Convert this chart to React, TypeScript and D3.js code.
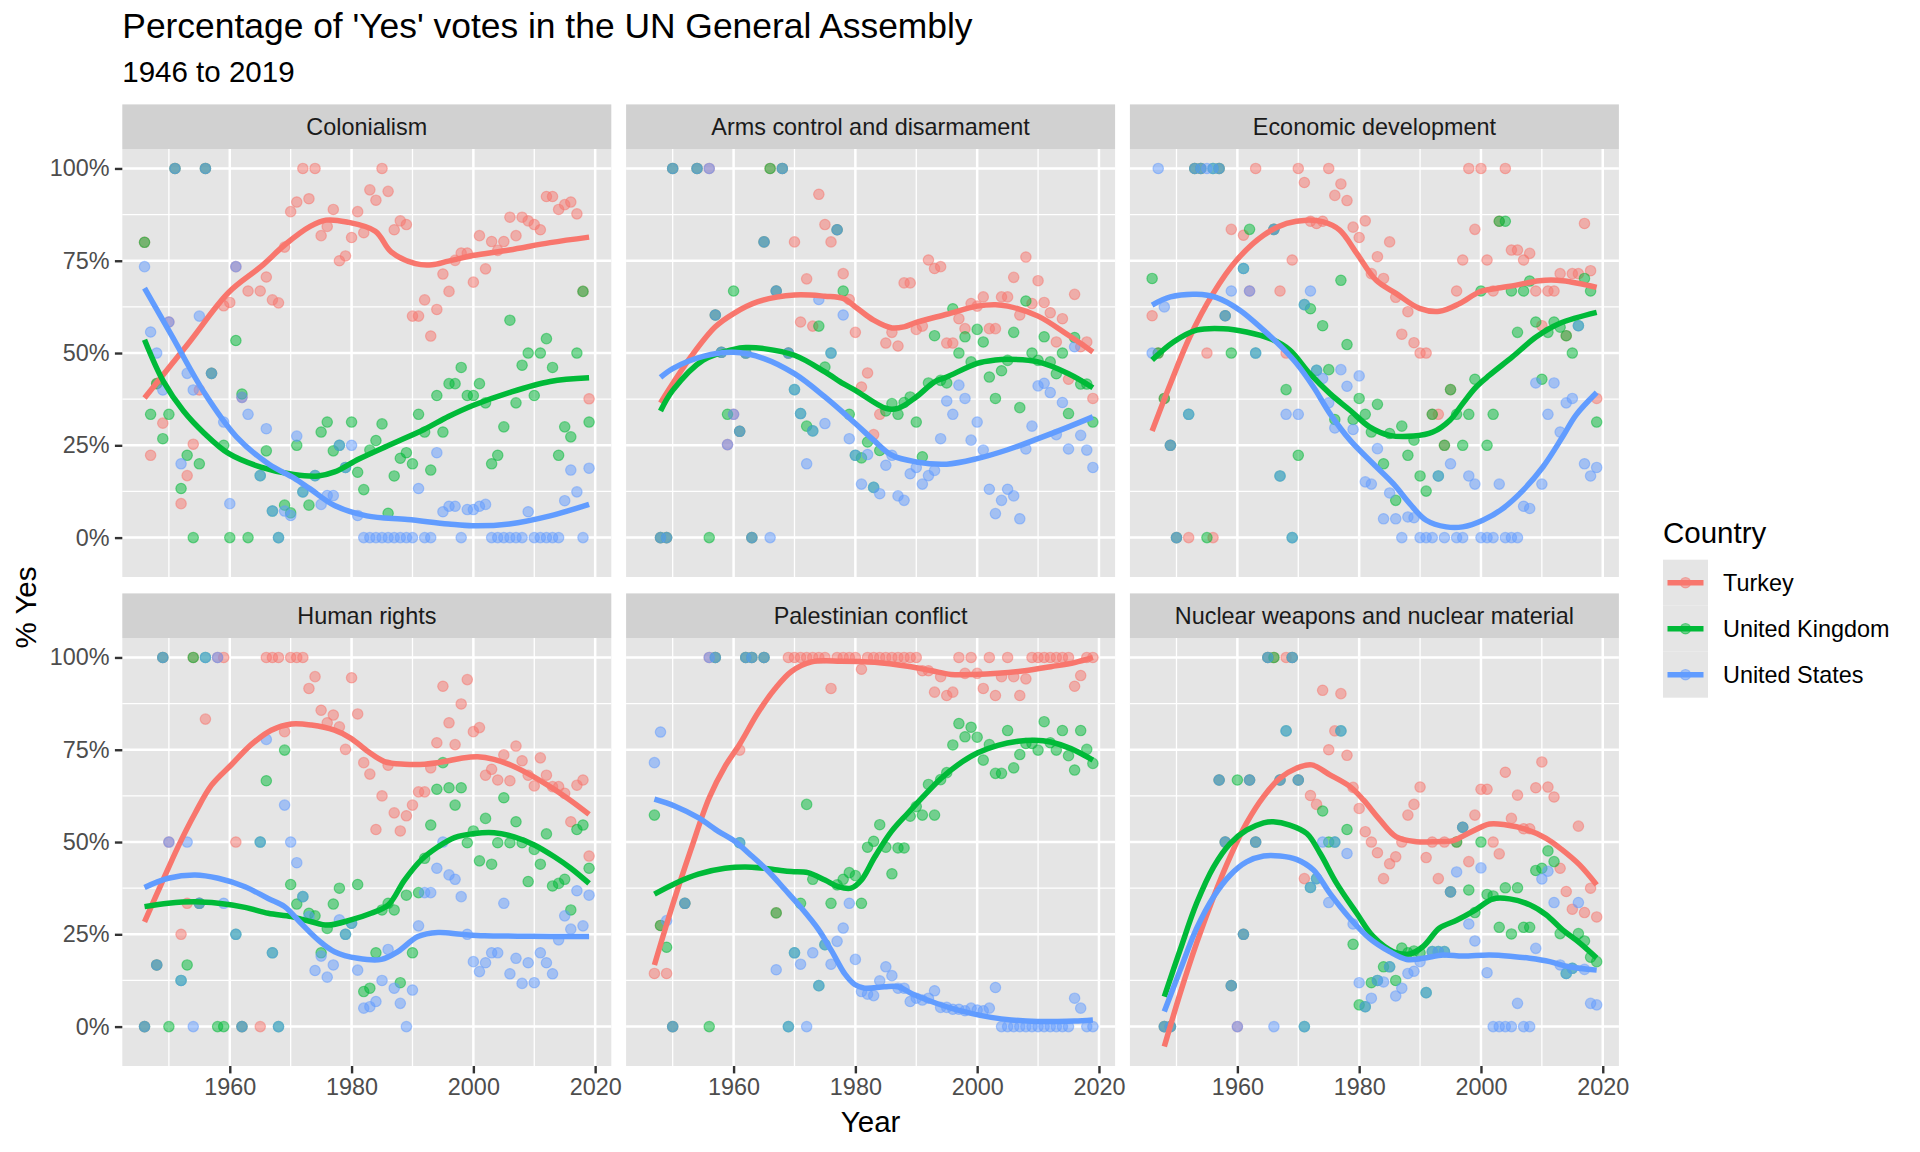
import { useEffect, useRef } from 'react';
import * as d3 from 'd3';

// ---- data ----------------------------------------------------------------
const countries = ['Turkey', 'United Kingdom', 'United States'];
const countryColors = ['#F8766D', '#00BA38', '#619CFF'];
const issues = [
  'Colonialism',
  'Arms control and disarmament',
  'Economic development',
  'Human rights',
  'Palestinian conflict',
  'Nuclear weapons and nuclear material',
];
const yTicks = [0, 25, 50, 75, 100];
const yMinorTicks = [12.5, 37.5, 62.5, 87.5];
const xTicks = [1960, 1980, 2000, 2020];
const xMinorTicks = [1950, 1970, 1990, 2010];

type V = number | null;

// Colonialism
const colonialismYears = [1946, 1947, 1948, 1949, 1950, 1951, 1952, 1953, 1954, 1955, 1956, 1957, 1959, 1960, 1961, 1962, 1963,
  1965, 1966, 1967, 1968, 1969, 1970, 1971, 1972, 1973, 1974, 1975, 1976, 1977, 1978, 1979, 1980, 1981, 1982, 1983, 1984,
  1985, 1986, 1987, 1988, 1989, 1990, 1991, 1992, 1993, 1994, 1995, 1996, 1997, 1998, 1999, 2000, 2001, 2002, 2003, 2004,
  2005, 2006, 2007, 2008, 2009, 2010, 2011, 2012, 2013, 2014, 2015, 2016, 2017, 2018, 2019];
const colonialismTurkey: V[] = [80, 22.3, 41.7, 31, 58.4, 100, 9.2, 16.8, 25.3, 40, 100, 44.5, 62.8, 63.7, 73.4, 38, 66.8,
  66.8, 70.6, 64.4, 63.6, 78.7, 88.3, 90.9, 100, 91.8, 100, 81.8, 84.3, 88.9, 75, 76.3, 81.3, 88.3, 82.6, 94.2, 91.4,
  100, 93.8, 83.4, 85.8, 84.8, 60, 60, 64.4, 54.6, 61.8, 71.4, 66.7, 75.1, 77.1, 77.1, 69.2, 81.8, 72.8, 80.2, 77.8,
  80.2, 86.8, 81.8, 86.8, 85.8, 84.8, 83.4, 92.4, 92.4, 88.9, 90.2, 90.9, 87.7, 66.7, 37.6];
const colonialismUK: V[] = [80, 33.4, 41.7, 26.8, 33.4, 100, 13.3, 22.3, 0, 20, 100, 44.5, 25, 0, 53.4, 38.9, 0,
  16.8, 23.5, 7.2, 0, 8.8, 6.7, 25, 12.4, 8.8, 16.8, 28.6, 31.3, 23.5, 25, 19, 31.3, 17.7, 13, 23.7, 26.3,
  30.8, 6.6, 16.7, 21.5, 23, 20, 33.4, 28.6, 18.3, 38.5, 28.6, 41.7, 41.7, 46.1, 38.5, 38.5, 41.7, 36.5, 20, 22.3,
  30, 58.9, 36.5, 46.7, 50, 38.5, 50, 53.9, 46.1, 22.3, 30, 27.3, 50, 66.7, 31.3];
const colonialismUS: V[] = [73.4, 55.7, 50, 40, 58.4, 100, 20, 44.5, 40, 60, 100, 44.5, 31.3, 9.2, 73.4, 38, 33.4,
  16.8, 29.5, 7.2, 0, 7.2, 6, 27.5, 12.4, null, 16.8, 9, 11.4, 11.4, 25, 19, 25, 6, 0, 0, 0,
  0, 0, 0, 0, 0, 0, 13.3, 0, 0, 23, 7, 8.5, 8.5, 0, 7.6, 7.6, 8.5, 9, 0, 0,
  0, 0, 0, 0, 7, 0, 0, 0, 0, 0, 10, 18.3, 12.4, 0, 18.8];
const colonialismTurkeyTrend = [[1946, 37.8], [1953.1, 52.4], [1959.8, 66.4], [1965.1, 73.4], [1969.1, 79.4], [1973.2, 84.3],
  [1975.8, 86], [1979.2, 85.5], [1983.9, 83], [1986.5, 77.4], [1990.5, 74.2], [1993.2, 73.9], [1995.9, 74.9], [1999.9, 76.4],
  [2005.9, 77.9], [2012.6, 79.9], [2019, 81.4]];
const colonialismUKTrend = [[1946, 53.6], [1949.1, 42.3], [1952.4, 34.3], [1955.8, 28.3], [1959.8, 22.8], [1965.1, 19.1],
  [1970.5, 17.1], [1974.5, 16.7], [1977.2, 17.8], [1981.2, 21.3], [1986.5, 25.3], [1991.9, 29.3], [1995.9, 32.8],
  [1999.9, 35.8], [2005.9, 39.3], [2012.6, 42.3], [2019, 43.3]];
const colonialismUSTrend = [[1946, 67.6], [1950.4, 54.9], [1955.8, 39.3], [1961.1, 27.3], [1966.5, 19.8], [1970.5, 16.2],
  [1973.2, 13.2], [1977.2, 8.7], [1982.5, 5.9], [1989.2, 4.9], [1995.9, 3.7], [1999.9, 3.2], [2005.9, 3.7], [2012.6, 5.9],
  [2019, 9]];

// Arms control and disarmament
const armsYears = [1948, 1949, 1950, 1954, 1956, 1957, 1958, 1959, 1960, 1961, 1962, 1963, 1965, 1966, 1967, 1968, 1969,
  1970, 1971, 1972, 1973, 1974, 1975, 1976, 1977, 1978, 1979, 1980, 1981, 1982, 1983, 1984, 1985, 1986, 1987, 1988, 1989,
  1990, 1991, 1992, 1993, 1994, 1995, 1996, 1997, 1998, 1999, 2000, 2001, 2002, 2003, 2004, 2005, 2006, 2007, 2008, 2009,
  2010, 2011, 2012, 2013, 2014, 2015, 2016, 2017, 2018, 2019];
const armsTurkey: V[] = [0, 0, 100, 100, 100, 60.3, 50.2, 25.2, 33.4, 28.8, 50, 0, 80.1, 100, 66.8, 100, 50,
  80.1, 58.4, 70.1, 57.3, 93, 84.8, 80.1, 83.4, 71.5, 64.5, 55.6, 40.8, 44.6, 27.9, 33.4, 52.7, 55.6, 51.9, 69, 69,
  56.4, 57.3, 75.2, 72.9, 73.4, 52.7, 52.7, 59.3, 56.6, 63.4, 62.7, 65.2, 56.6, 56.6, 65.2, 65.2, 70.5, 60.3, 76, 63.4,
  69.6, 63.7, 60.9, 53, 59.3, 42.9, 65.9, 51.7, 53, 37.7];
const armsUK: V[] = [0, 0, 100, 100, 0, 60.3, 50.2, 33.4, 66.8, 28.8, 50, 0, 80.1, 100, 66.8, 100, 50,
  40.1, 33.6, 30.2, 28.9, 57.3, 46.2, 50, 83.4, 66.8, 33.4, 22.3, 21.6, 25.9, 13.6, 23.6, 34.3, 36.3, 33.4, 36.6, 38.1,
  31.3, 21.9, 41.9, 54.7, 42.6, 41.9, 62, 50, 54.4, 47.6, 56.4, 53, 43.5, 37.7, 45.2, 48, 55.6, 35.2, 64.1, 50,
  48, 54.4, 47.6, 44.4, 50, 33.6, 54.2, 41.6, 41.6, 31.3];
const armsUS: V[] = [0, 0, 100, 100, 100, 60.3, 50.2, 25.2, 33.4, 28.8, 50, 0, 80.1, 0, 66.8, 100, 50,
  40.1, 33.6, 20, 28.9, 64.5, 30.9, 50, 83.4, 60.3, 26.8, 22.3, 14.5, 22.5, 13.6, 11.9, 19.6, 22.3, 11.3, 10.1, 17.3,
  19, 14.5, 16.8, 18.2, 26.8, 37, 33.4, 41.3, 37.7, 26.4, 31.3, 23.7, 13.1, 6.5, 10.1, 13.1, 11.3, 5.1, 24, 30.2,
  41.1, 41.8, 39.3, 27.9, 36.6, 24, 51.7, 27.7, 23.7, 19];
const armsTurkeyTrend = [[1948, 36.5], [1953, 49], [1957, 57.1], [1960, 60.7], [1964, 63.9], [1970, 65.7], [1975, 65.4],
  [1978, 64.8], [1980, 62.5], [1983, 58.9], [1986, 56.8], [1988, 57.1], [1990, 58.3], [1995, 60.5], [2000, 62.7],
  [2003, 63.1], [2005, 62.7], [2010, 60], [2015, 54.8], [2019, 50.3]];
const armsUKTrend = [[1948, 34.3], [1950, 39.9], [1955, 48.1], [1960, 51], [1962, 51.5], [1965, 51.2], [1970, 49.4],
  [1975, 44.9], [1978, 41.7], [1980, 39.9], [1985, 35], [1987, 35], [1990, 38.1], [1993, 42.2], [1995, 43.5], [2000, 47.2],
  [2003, 48.1], [2005, 48.3], [2010, 47.6], [2015, 44.4], [2019, 40.6]];
const armsUSTrend = [[1948, 43.4], [1950, 45.8], [1955, 49.1], [1960, 50.2], [1965, 48.5], [1970, 44.4], [1975, 38.1],
  [1980, 30.9], [1983, 26.4], [1986, 22.3], [1990, 20.5], [1995, 19.9], [2000, 21.4], [2005, 23.8], [2010, 26.8],
  [2015, 30], [2019, 32.7]];

// Economic development
const economicYears = [1946, 1947, 1948, 1949, 1950, 1952, 1953, 1954, 1955, 1956, 1957, 1958, 1959, 1961, 1962, 1963,
  1966, 1967, 1968, 1969, 1970, 1971, 1972, 1973, 1974, 1975, 1976, 1977, 1978, 1979, 1980, 1981, 1982, 1983, 1984,
  1985, 1986, 1987, 1988, 1989, 1990, 1991, 1992, 1993, 1994, 1995, 1996, 1997, 1998, 1999, 2000, 2001, 2002, 2003, 2004,
  2005, 2006, 2007, 2008, 2009, 2010, 2011, 2012, 2013, 2014, 2015, 2016, 2017, 2018, 2019];
const economicTurkey: V[] = [60.1, 50, 37.7, 25, 0, 0, 100, 100, 50, 0, 100, 60.1, 83.5, 81.9, 66.8, 100,
  83.5, 66.8, 50, 75.2, 100, 96.2, 85.7, 85.1, 85.7, 100, 92.7, 95.8, 91.3, 84.1, 81.3, 85.8, 71.5, 76.1, 70.2,
  80.1, 65.1, 55.1, 61.2, 52.8, 50, 50, 33.4, 33.4, 25, 40.1, 66.8, 75.2, 100, 83.5, 100, 75.2, 66.8, 85.7, 100,
  77.9, 77.9, 75.2, 77, 66.8, 57.4, 66.8, 66.8, 71.5, 54.7, 71.5, 71.5, 85.1, 72.3, 37.7];
const economicUK: V[] = [70.2, 50, 37.7, 25, 0, 33.4, 100, 100, 0, 100, 100, 60.1, 50, 72.9, 83.5, 50,
  83.5, 16.7, 40.1, 0, 22.3, 63.1, 62, 45.3, 57.4, 45.5, 32, 69.7, 52.3, 32, 37.7, 33.4, 28.6, 36.1, 20,
  28.2, 10.1, 30.2, 22.3, 26.4, 16.7, 12.6, 33.4, 16.7, 25, 40.1, 33.4, 25, 33.4, 42.9, 66.8, 25, 33.4, 85.7, 85.7,
  66.8, 55.6, 66.8, 69.5, 58.4, 42.9, 55.6, 58.4, 57, 54.7, 50, 57.4, 70.2, 66.8, 31.3];
const economicUS: V[] = [50, 100, 62.5, 25, 0, 33.4, 100, 100, 100, 100, 100, 60.1, 66.8, 72.9, 66.8, 50,
  83.5, 16.7, 33.4, 0, 33.4, 63.1, 66.8, 45.3, 43.1, 36.5, 29.7, 45.5, 41, 29.3, 43.8, 15.1, 14.5, 24.1, 5.1,
  12.1, 5.1, 0, 5.6, 5.4, 0, 0, 0, 16.7, 0, 20, 0, 0, 16.7, 14.5, 0, 0, 0, 14.5, 0,
  0, 0, 8.5, 7.9, 41.9, 14.5, 33.4, 41.9, 28.6, 36.5, 37.7, 57.4, 20, 16.7, 19];
const economicTurkeyTrend = [[1946, 28.9], [1949, 41.7], [1952.2, 54.4], [1956, 66.1], [1959.9, 75.2], [1964.3, 81.9],
  [1968.1, 85.1], [1971.4, 86], [1974.1, 85.5], [1976.8, 83.3], [1979.6, 77], [1982.8, 69.7], [1986.1, 66.1], [1989.9, 62.1],
  [1993.2, 61.3], [1996.5, 63.4], [1999.8, 66.6], [2002.5, 67.5], [2005.8, 68.4], [2009.6, 69.6], [2013.4, 69.6], [2019, 67.8]];
const economicUKTrend = [[1946, 48.1], [1949.5, 53], [1953.3, 56.2], [1957.7, 56.6], [1961.5, 55.7], [1965.4, 53.9],
  [1968.6, 50.8], [1971.9, 44.4], [1975.2, 39], [1978.5, 34.5], [1981.7, 30], [1985, 27.7], [1988.9, 27.5], [1992.1, 28.6],
  [1994.9, 31.8], [1997, 36.3], [1999.2, 40.8], [2001.4, 44], [2005.2, 49], [2009.1, 54.4], [2012.9, 58], [2019, 61]];
const economicUSTrend = [[1946, 63], [1949, 65.2], [1953.3, 65.9], [1956.6, 65], [1960.4, 61.6], [1964.3, 56.2],
  [1967.5, 51.2], [1969.7, 47.2], [1972.5, 40.8], [1975.2, 33.6], [1978.5, 26.4], [1982.3, 20], [1985.6, 14.6], [1988.3, 9.2],
  [1991, 4.7], [1994.3, 2.9], [1997, 2.9], [2000.3, 4.7], [2003.6, 7.9], [2006.9, 12.8], [2010.2, 19.2], [2013.4, 27.3],
  [2015.6, 33.2], [2019, 39.3]];

// Human rights
const humanRightsYears = [1946, 1948, 1949, 1950, 1952, 1953, 1954, 1955, 1956, 1958, 1959, 1961, 1962, 1965, 1966, 1967,
  1968, 1969, 1970, 1971, 1972, 1973, 1974, 1975, 1976, 1977, 1978, 1979, 1980, 1981, 1982, 1983, 1984,
  1985, 1986, 1987, 1988, 1989, 1990, 1991, 1992, 1993, 1994, 1995, 1996, 1997, 1998, 1999, 2000, 2001, 2002, 2003, 2004,
  2005, 2006, 2007, 2008, 2009, 2010, 2011, 2012, 2013, 2014, 2015, 2016, 2017, 2018, 2019];
const humanRightsTurkey: V[] = [0, 16.7, 100, 50, 25, 33.4, 100, 33.4, 83.3, 100, 100, 50, 0, 0, 100, 100,
  100, 79.9, 100, 100, 100, 91.6, 94.8, 85.7, 82.3, 84.4, 81.2, 75.1, 94.5, 84.7, 71.5, 68.4, 53.4,
  62.5, 70.8, 57.9, 53, 57.1, 60, 63.6, 63.6, 70.1, 76.9, 92.2, 82.3, 76.4, 87.4, 94, 79.9, 81, 68.1, 69.7, 66.8,
  73.6, 66.6, 76, 72, 68.1, 65.2, 72.8, 68.1, 65, 65, 63.2, 55.5, 65.4, 66.8, 46.2];
const humanRightsUK: V[] = [0, 16.7, 100, 0, 12.5, 16.7, 100, 33.4, 100, 0, 0, 25, 0, 50, 66.6, 20,
  0, 74.9, 38.5, 33.2, 35.2, 30.7, 30, 20, 26.6, 33.2, 37.5, 25, 28, 38.5, 9.5, 10.4, 20,
  31.6, 33.4, 31.6, 11.9, 35.6, 20, 36.3, 45.6, 54.6, 64.3, 71.5, 64.7, 60, 64.7, 49.8, 53, 44.9, 56.4, 44, 49.8,
  62, 49.8, 55.5, 49.8, 39.3, 48, 44, 52.2, 38.1, 38.8, 39.9, 31.6, 53.4, 54.6, 42.9];
const humanRightsUS: V[] = [0, 16.7, 100, 50, 12.5, 50, 0, 33.4, 100, 100, 33.4, 25, 0, 50, 77.8, 20,
  0, 60, 50, 44.4, 35.2, 29.8, 15.2, 19.1, 13.4, 16.7, 28.9, 25, 28, 15.3, 5, 5.4, 6.8,
  12.5, 20.9, 10.4, 6.3, 0, 9.9, 27.3, 36.3, 36.3, 42.9, 50, 41.1, 39.9, 35.2, 25, 17.6, 14.9, 17.3, 20, 20,
  33.4, 14.3, 18.5, 11.7, 17.3, 11.9, 20, 17.3, 14.3, 23.5, 30, 26.4, 36.8, 27.3, 35.6];
const humanRightsTurkeyTrend = [[1946, 28.4], [1948.8, 38.8], [1951.5, 48.7], [1954.3, 57.8], [1957, 65.4], [1960.3, 71],
  [1963.6, 76.5], [1966.8, 80.3], [1970.1, 82], [1973.4, 81.7], [1977.2, 80.3], [1979.9, 78.1], [1982.7, 74.5],
  [1985.4, 71.8], [1988.7, 71.1], [1992, 71.1], [1995.2, 71.8], [1998, 72.7], [2000.7, 73.1], [2003.4, 72.4],
  [2006.2, 70.8], [2008.9, 68.6], [2012.2, 65.4], [2015.5, 61.8], [2019, 57.5]];
const humanRightsUKTrend = [[1946, 32.5], [1949.9, 33.4], [1954.3, 33.8], [1958.1, 33.4], [1962.5, 32.3], [1966.3, 30.7],
  [1970.1, 29.8], [1973.4, 28.4], [1976.1, 27.5], [1979.9, 28.9], [1983.2, 30.7], [1986, 32.9], [1988.7, 39.7],
  [1991.4, 45.1], [1994.2, 48.7], [1996.9, 51.2], [2000.2, 52.3], [2003.4, 52.5], [2006.7, 51.4], [2010, 49.2],
  [2013.3, 46], [2016, 42.9], [2019, 38.8]];
const humanRightsUSTrend = [[1946, 37.7], [1949.9, 40.2], [1954.3, 41.1], [1958.1, 40.2], [1962.5, 37.9], [1966.3, 34.7],
  [1969, 32.5], [1971.7, 28], [1974.5, 23.5], [1977.2, 20.3], [1981, 18.5], [1984.9, 18.2], [1987.6, 20.3], [1990.9, 24.4],
  [1994.2, 25.5], [1998, 25], [2001.8, 24.6], [2007.3, 24.5], [2012.7, 24.4], [2019, 24.4]];

// Palestinian conflict
const palestineYears = [1947, 1948, 1949, 1950, 1952, 1956, 1957, 1961, 1962, 1963, 1965, 1967, 1969,
  1970, 1971, 1972, 1973, 1974, 1975, 1976, 1977, 1978, 1979, 1980, 1981, 1982, 1983, 1984, 1985, 1986, 1987, 1988, 1989,
  1990, 1991, 1992, 1993, 1994, 1995, 1996, 1997, 1998, 1999, 2000, 2001, 2002, 2003, 2004, 2005, 2006, 2007, 2008, 2009,
  2010, 2011, 2012, 2013, 2014, 2015, 2016, 2017, 2018, 2019];
const palestineTurkey: V[] = [14.4, 27.4, 14.4, 0, 33.4, 100, 100, 74.9, 100, 100, 100, 30.8, 100,
  100, 100, 100, 100, 100, 100, 91.6, 100, 100, 100, 100, 96.8, 100, 100, 100, 100, 100, 100, 100, 100,
  100, 96.4, 96.4, 90.6, 94.8, 89.7, 90.6, 100, 95.7, 100, 95.7, 91.6, 100, 89.7, 94.8, 100, 94.8, 89.7, 94.2, 100,
  100, 100, 100, 100, 100, 100, 92.2, 95.1, 100, 100];
const palestineUK: V[] = [57.3, 27.4, 21.5, 0, 33.4, 0, 100, 49.8, 100, 100, 100, 30.8, 0,
  20, 33.4, 60.2, 39.9, 11.1, 22.2, 33.4, 38.4, 39.9, 41.7, 40.9, 33.4, 48.6, 50.2, 54.7, 48.6, 41.4, 48.4, 48.4, 57,
  59.6, 57.3, 65.6, 57.3, 66.9, 68.8, 76.3, 82.1, 78.5, 81.1, 78.4, 72.2, 76.4, 68.6, 68.6, 80.2, 70.1, 73.7, 76.7, 76.7,
  74.9, 82.6, 76.9, 74.9, 80.2, 73.4, 69.5, 80.2, 75.1, 71.3];
const palestineUS: V[] = [71.5, 79.8, 28.7, 0, 33.4, 100, 100, 49.8, 100, 100, 100, 15.4, 0,
  20, 16.9, 0, 20, 11.1, 22.2, 16.9, 23.1, 26.7, 33.4, 18.2, 9.5, 8.8, 8.4, 12.4, 16.2, 13.8, 10.4, 10.4, 6.8,
  7.7, 7.2, 7.7, 9.7, 5.2, 5.2, 4.7, 4.7, 4.3, 5, 4.5, 4.3, 5, 10.6, 0, 0, 0, 0, 0, 0,
  0, 0, 0, 0, 0, 0, 7.7, 5, 0, 0];
const palestineTurkeyTrend = [[1947, 16.7], [1950, 33], [1953, 48], [1956, 62], [1958.6, 70.5], [1961, 76.5], [1964, 85],
  [1966.8, 91.5], [1969.5, 96.2], [1972.8, 98.8], [1977.7, 99], [1983.2, 98.7], [1988.6, 97.6], [1992.5, 96.4],
  [1995.7, 95.4], [1999.6, 95.4], [2003.4, 95.7], [2007.8, 96.4], [2012.1, 97.5], [2016, 98.6], [2019, 100]];
const palestineUKTrend = [[1947, 35.9], [1950.4, 38.8], [1954.2, 41.3], [1958.6, 42.9], [1963, 43.2], [1966.8, 42.5],
  [1969.5, 42], [1972.2, 41.7], [1975, 39.7], [1977.2, 37.9], [1979.3, 37.5], [1981, 39.7], [1983.2, 46], [1985.9, 52.8],
  [1988.6, 57.8], [1991.4, 62.8], [1994.1, 67.3], [1996.8, 70.9], [2000.1, 74.2], [2003.4, 76.2], [2006.7, 77.3],
  [2009.4, 77.6], [2012.1, 77.1], [2015.4, 75.3], [2019, 72.2]];
const palestineUSTrend = [[1947, 61.6], [1950.4, 59.7], [1954.2, 56.6], [1957.5, 52.9], [1960.2, 50.2], [1963, 46.2],
  [1965.7, 42.1], [1968.4, 37.2], [1971.1, 32.2], [1973.9, 26.4], [1976.1, 20.5], [1978.3, 14.2], [1979.9, 11.4],
  [1981.5, 10.4], [1984.8, 10.8], [1987, 10.8], [1989.2, 9], [1992.5, 6.8], [1995.7, 5], [1999, 3.6], [2002.3, 2.5],
  [2005.6, 1.8], [2009.9, 1.4], [2013.2, 1.4], [2016, 1.5], [2019, 1.8]];

// Nuclear weapons and nuclear material
const nuclearYears = [1948, 1949, 1957, 1958, 1959, 1960, 1961, 1962, 1963, 1965, 1966, 1967, 1968, 1969,
  1970, 1971, 1972, 1973, 1974, 1975, 1976, 1977, 1978, 1979, 1980, 1981, 1982, 1983, 1984, 1985, 1986, 1987, 1988, 1989,
  1990, 1991, 1992, 1993, 1994, 1995, 1996, 1997, 1998, 1999, 2000, 2001, 2002, 2003, 2004, 2005, 2006, 2007, 2008, 2009,
  2010, 2011, 2012, 2013, 2014, 2015, 2016, 2017, 2018, 2019];
const nuclearTurkey: V[] = [0, 0, 66.8, 50, 11.1, 0, 25, 66.8, 50, 100, 100, 66.8, 100, 100,
  66.8, 40.1, 62.6, 60.2, 91.1, 75, 80.1, 90.2, 73.5, 64.8, 59.1, 52.8, 50, 47.1, 40.1, 44.1, 46, 50, 57.3, 60.2,
  64.9, 45.8, 50, 40.1, 50, 36.5, 50, 54, 44.7, 57.3, 64.3, 64.3, 50, 46.8, 68.9, 56.4, 62.7, 53.6, 53.6, 64.7,
  71.7, 64.9, 62.2, 42.9, 36.6, 31.8, 54.3, 30.9, 37.5, 29.7];
const nuclearUK: V[] = [0, 0, 66.8, 50, 11.1, 66.8, 25, 66.8, 50, 100, 100, 66.8, 80.1, 100,
  66.8, 0, 37.7, 40.1, 58.4, 50, 50, 80.1, 53.4, 22.3, 5.9, 5.4, 11.9, 12.5, 16.2, 16.2, 12.5, 21.3, 20, 20.5,
  20, 9.2, 20.3, 20.3, 20.3, 36.5, 50, 54, 37, 30.9, 50, 35.8, 35.4, 26.9, 37.6, 25.1, 37.6, 26.9, 26.9, 42.3,
  42.9, 47.6, 44.7, 25.2, 14.4, 15.8, 25.2, 23.2, 18.8, 17.6];
const nuclearUS: V[] = [0, 0, 66.8, 50, 11.1, 0, 25, 66.8, 50, 100, 0, 66.8, 80.1, 100,
  66.8, 0, 37.7, 40.1, 50, 33.6, 50, 80.1, 46.9, 27.8, 11.9, 5.4, 7.7, 12.5, 12.1, 16.2, 8.3, 10.4, 14.4, 15,
  17.6, 9.2, 20.3, 20.3, 20.3, 36.5, 41.9, 54, 27.8, 23.2, 43, 14.6, 0, 0, 0, 0, 6.3, 0, 0, 21.2,
  40, 42.1, 33.6, 16.7, 14.4, 15.8, 33.6, 15.5, 6.3, 5.9];
const nuclearTurkeyTrend = [[1948, -5.4], [1950.6, 9], [1953.3, 22.6], [1956.1, 35.2], [1958.8, 46], [1961.5, 55.1],
  [1964.3, 62.3], [1967, 67.3], [1969.7, 70], [1972.2, 70.9], [1975.2, 68.2], [1978.5, 65], [1980.7, 61.4], [1983.4, 56],
  [1986.1, 51.4], [1989.4, 50.1], [1992.7, 50.1], [1995.4, 50.4], [1998.1, 52.5], [2001.4, 54.9], [2004.2, 54.6],
  [2007.4, 53.4], [2010.7, 51], [2013.4, 47.8], [2016.2, 43.8], [2019, 38.4]];
const nuclearUKTrend = [[1948, 8.1], [1950.6, 20.8], [1953.3, 33.4], [1956.1, 43.3], [1958.8, 49.6], [1961.5, 53.2],
  [1964.3, 55.2], [1965.9, 55.5], [1968.6, 54.6], [1971.4, 52.3], [1973.6, 46.9], [1976.3, 38.8], [1979.6, 30.7],
  [1982.3, 24.4], [1985.6, 20.3], [1988.3, 19.7], [1990.5, 21.7], [1993.2, 26.7], [1996, 28.8], [1998.7, 31.2], [2002, 34.6],
  [2004.7, 34.6], [2008, 33], [2010.7, 30.3], [2013.4, 26.2], [2016.2, 22.7], [2019, 18.6]];
const nuclearUSTrend = [[1948, 4.1], [1950.6, 15.3], [1953.3, 26.6], [1956.1, 35.2], [1958.8, 41], [1961.5, 44.6],
  [1964.3, 46.2], [1967, 46.2], [1969.7, 45.3], [1972.5, 42.4], [1975.2, 36.1], [1978.5, 29.3], [1981.7, 23.9], [1985, 20.3],
  [1987.8, 18.2], [1990.5, 18.5], [1993.8, 19.4], [1997, 19.1], [2001.4, 19.4], [2005.2, 19], [2008, 18.5], [2011.3, 17.6],
  [2014.5, 16.2], [2019, 15.3]];

const facets = [
  { years: colonialismYears, values: [colonialismTurkey, colonialismUK, colonialismUS],
    trends: [colonialismTurkeyTrend, colonialismUKTrend, colonialismUSTrend] },
  { years: armsYears, values: [armsTurkey, armsUK, armsUS], trends: [armsTurkeyTrend, armsUKTrend, armsUSTrend] },
  { years: economicYears, values: [economicTurkey, economicUK, economicUS],
    trends: [economicTurkeyTrend, economicUKTrend, economicUSTrend] },
  { years: humanRightsYears, values: [humanRightsTurkey, humanRightsUK, humanRightsUS],
    trends: [humanRightsTurkeyTrend, humanRightsUKTrend, humanRightsUSTrend] },
  { years: palestineYears, values: [palestineTurkey, palestineUK, palestineUS],
    trends: [palestineTurkeyTrend, palestineUKTrend, palestineUSTrend] },
  { years: nuclearYears, values: [nuclearTurkey, nuclearUK, nuclearUS],
    trends: [nuclearTurkeyTrend, nuclearUKTrend, nuclearUSTrend] },
].map((f, i) => ({ ...f, issue: issues[i] }));

// ---- chart ---------------------------------------------------------------
export default function App() {
  const svgRef = useRef<SVGSVGElement>(null);

  useEffect(() => {
    if (!svgRef.current) return;
    document.body.style.margin = '0';

    const svg = d3.select(svgRef.current);
    svg.selectAll('*').remove();

    const font = "'Liberation Sans', Arial, Helvetica, sans-serif";
    const panelLeft = 122.3;
    const panelW = 489;
    const colStep = 503.8;
    const panelTops = [149, 638];
    const panelH = 428;
    const stripH = 44.6;
    const panelFill = '#E5E5E5';
    const stripFill = '#D1D1D1';

    const x = d3.scaleLinear().domain([1942.35, 2022.65]).range([0, panelW]);
    const y = d3.scaleLinear().domain([-10.67, 105.27]).range([panelH, 0]);

    const line = d3
      .line<number[]>()
      .x(d => x(d[0]))
      .y(d => y(d[1]))
      .curve(d3.curveCatmullRom.alpha(0.5));

    // Title & subtitle
    svg.append('text')
      .attr('x', panelLeft).attr('y', 37.5)
      .attr('font-family', font).attr('font-size', 35.4).attr('fill', '#000')
      .text("Percentage of 'Yes' votes in the UN General Assembly");
    svg.append('text')
      .attr('x', panelLeft).attr('y', 81.7)
      .attr('font-family', font).attr('font-size', 29.5).attr('fill', '#000')
      .text('1946 to 2019');

    facets.forEach((f, i) => {
      const col = i % 3;
      const row = Math.floor(i / 3);
      const px = panelLeft + col * colStep;
      const py = panelTops[row];

      // strip
      const strip = svg.append('g').attr('transform', `translate(${px},${py - stripH})`);
      strip.append('rect').attr('width', panelW).attr('height', stripH).attr('fill', stripFill);
      strip.append('text')
        .attr('x', panelW / 2).attr('y', 31)
        .attr('text-anchor', 'middle')
        .attr('font-family', font).attr('font-size', 23.4).attr('fill', '#1A1A1A')
        .text(f.issue);

      const g = svg.append('g').attr('transform', `translate(${px},${py})`);
      g.append('rect').attr('width', panelW).attr('height', panelH).attr('fill', panelFill);

      // grid
      g.selectAll('.xminor').data(xMinorTicks).enter().append('line')
        .attr('x1', d => x(d)).attr('x2', d => x(d)).attr('y1', 0).attr('y2', panelH)
        .attr('stroke', '#fff').attr('stroke-width', 1.3);
      g.selectAll('.yminor').data(yMinorTicks).enter().append('line')
        .attr('y1', d => y(d)).attr('y2', d => y(d)).attr('x1', 0).attr('x2', panelW)
        .attr('stroke', '#fff').attr('stroke-width', 1.3);
      g.selectAll('.xmajor').data(xTicks).enter().append('line')
        .attr('x1', d => x(d)).attr('x2', d => x(d)).attr('y1', 0).attr('y2', panelH)
        .attr('stroke', '#fff').attr('stroke-width', 2.5);
      g.selectAll('.ymajor').data(yTicks).enter().append('line')
        .attr('y1', d => y(d)).attr('y2', d => y(d)).attr('x1', 0).attr('x2', panelW)
        .attr('stroke', '#fff').attr('stroke-width', 2.5);

      // points
      countries.forEach((c, ci) => {
        const pts = f.years
          .map((yr, k) => ({ yr, v: f.values[ci][k] }))
          .filter(p => p.v !== null && p.v !== undefined);
        g.append('g').selectAll('circle').data(pts).enter().append('circle')
          .attr('cx', d => x(d.yr)).attr('cy', d => y(d.v as number))
          .attr('r', 5.2)
          .attr('fill', countryColors[ci]).attr('fill-opacity', 0.5)
          .attr('stroke', countryColors[ci]).attr('stroke-opacity', 0.5).attr('stroke-width', 1.2);
      });

      // smoothed trends
      countries.forEach((c, ci) => {
        g.append('path')
          .attr('d', line(f.trends[ci]) || '')
          .attr('fill', 'none')
          .attr('stroke', countryColors[ci])
          .attr('stroke-width', 5.5)
          .attr('stroke-linecap', 'butt');
      });

      // y axis on first column
      if (col === 0) {
        const ya = g.append('g').call(
          d3.axisLeft(y).tickValues(yTicks).tickFormat(d => `${d}%`).tickSize(7.4).tickPadding(5.4)
        );
        ya.select('.domain').remove();
        ya.selectAll('.tick line').attr('stroke', '#333333').attr('stroke-width', 2.4);
        ya.selectAll('.tick text')
          .attr('font-family', font).attr('font-size', 23.4).attr('fill', '#4D4D4D');
      }

      // x axis on bottom row
      if (row === 1) {
        const xa = g.append('g').attr('transform', `translate(0,${panelH})`).call(
          d3.axisBottom(x).tickValues(xTicks).tickFormat(d => `${d}`).tickSize(7.4).tickPadding(5.4)
        );
        xa.select('.domain').remove();
        xa.selectAll('.tick line').attr('stroke', '#333333').attr('stroke-width', 2.4);
        xa.selectAll('.tick text')
          .attr('font-family', font).attr('font-size', 23.4).attr('fill', '#4D4D4D');
      }
    });

    // axis titles
    svg.append('text')
      .attr('x', panelLeft + (2 * colStep + panelW) / 2).attr('y', 1132)
      .attr('text-anchor', 'middle')
      .attr('font-family', font).attr('font-size', 29.5).attr('fill', '#000')
      .text('Year');
    svg.append('text')
      .attr('transform', `translate(35.5,${(panelTops[0] + panelTops[1] + panelH) / 2}) rotate(-90)`)
      .attr('text-anchor', 'middle')
      .attr('font-family', font).attr('font-size', 29.5).attr('fill', '#000')
      .text('% Yes');

    // legend
    const legend = svg.append('g').attr('transform', 'translate(1663,0)');
    legend.append('text')
      .attr('x', 0).attr('y', 543)
      .attr('font-family', font).attr('font-size', 29.5).attr('fill', '#000')
      .text('Country');
    const keyH = 46;
    countries.forEach((c, ci) => {
      const top = 559.7 + ci * keyH;
      const cy = top + keyH / 2;
      legend.append('rect').attr('x', 0).attr('y', top).attr('width', 45).attr('height', keyH).attr('fill', panelFill);
      legend.append('circle')
        .attr('cx', 22.5).attr('cy', cy).attr('r', 5.2)
        .attr('fill', countryColors[ci]).attr('fill-opacity', 0.5)
        .attr('stroke', countryColors[ci]).attr('stroke-opacity', 0.5).attr('stroke-width', 1.2);
      legend.append('line')
        .attr('x1', 4.5).attr('x2', 40.5).attr('y1', cy).attr('y2', cy)
        .attr('stroke', countryColors[ci]).attr('stroke-width', 5.5);
      legend.append('text')
        .attr('x', 60).attr('y', cy + 8.3)
        .attr('font-family', font).attr('font-size', 23.4).attr('fill', '#000')
        .text(c);
    });
  }, []);

  return (
    <svg
      ref={svgRef}
      width={1920}
      height={1152}
      style={{ position: 'absolute', left: 0, top: 0, background: '#fff', display: 'block' }}
    />
  );
}
